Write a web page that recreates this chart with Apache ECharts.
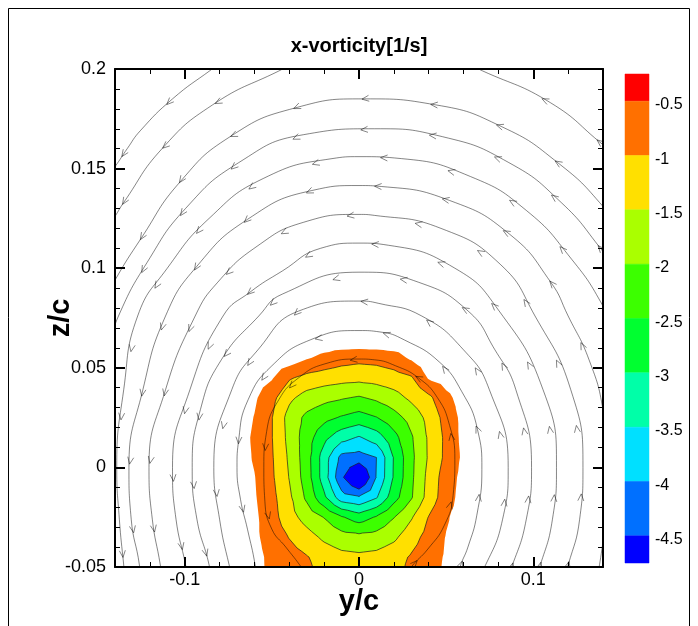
<!DOCTYPE html>
<html>
<head>
<meta charset="utf-8">
<script src="https://cdn.jsdelivr.net/npm/echarts@6/dist/echarts.min.js"></script>
<style>
  html, body { margin: 0; padding: 0; background: #ffffff; }
  #chart { width: 698px; height: 626px; }
</style>
</head>
<body>
<div id="chart"></div>
<script>
// ---- measurement grid (y/c columns, z/c rows) and x-vorticity [1/s] ----
const gridY = [-0.07, -0.06, -0.05, -0.04, -0.03, -0.02, -0.01, 0, 0.01, 0.02, 0.03, 0.04, 0.05, 0.06, 0.07];
const gridZ = [-0.055, -0.045, -0.035, -0.025, -0.015, -0.005, 0.005, 0.015, 0.025, 0.035, 0.045, 0.055, 0.065];
const vorticity = [
  [-0.2, -0.35, -0.6, -0.75, -0.9, -1.05, -1.2, -1.25, -1.2, -1.05, -0.9, -0.65, -0.42, -0.3, -0.15],
  [-0.2, -0.35, -0.62, -0.8, -0.97, -1.2, -1.35, -1.4, -1.35, -1.2, -0.95, -0.7, -0.45, -0.3, -0.15],
  [-0.2, -0.4, -0.72, -1.02, -1.3, -1.6, -1.8, -1.85, -1.8, -1.6, -1.2, -0.82, -0.48, -0.3, -0.15],
  [-0.2, -0.4, -0.8, -1.3, -1.7, -2.02, -2.45, -2.75, -2.45, -2.02, -1.55, -0.98, -0.55, -0.3, -0.15],
  [-0.25, -0.45, -0.85, -1.4, -2.1, -2.9, -3.8, -3.95, -3.55, -2.7, -2.05, -1.3, -0.72, -0.3, -0.15],
  [-0.25, -0.48, -0.92, -1.52, -2.25, -3.25, -4.4, -5.3, -3.98, -2.95, -2.1, -1.35, -0.75, -0.35, -0.15],
  [-0.25, -0.55, -0.95, -1.58, -2.28, -3.25, -4.15, -4.2, -4.0, -2.97, -2.12, -1.44, -0.88, -0.4, -0.15],
  [-0.25, -0.58, -0.98, -1.65, -2.26, -2.86, -3.31, -3.55, -3.25, -2.67, -2.06, -1.43, -0.89, -0.35, -0.15],
  [-0.2, -0.52, -0.98, -1.69, -2.12, -2.35, -2.55, -2.7, -2.52, -2.19, -1.82, -1.35, -0.81, -0.35, -0.15],
  [-0.15, -0.42, -0.85, -1.39, -1.7, -1.85, -1.95, -2.05, -1.9, -1.7, -1.39, -1.11, -0.62, -0.3, -0.15],
  [-0.1, -0.3, -0.45, -0.94, -1.15, -1.25, -1.32, -1.35, -1.3, -1.2, -1.05, -0.45, -0.3, -0.2, -0.1],
  [-0.05, -0.1, -0.2, -0.2, -0.45, -0.62, -0.78, -0.85, -0.82, -0.7, -0.42, -0.2, -0.2, -0.1, -0.05],
  [-0.02, -0.03, -0.05, -0.08, -0.12, -0.15, -0.1, -0.05, -0.05, -0.1, -0.15, -0.12, -0.08, -0.05, -0.02]
];

// ---- contour levels and colour bands (top of legend to bottom) ----
const levels = [-0.5, -1, -1.5, -2, -2.5, -3, -3.5, -4, -4.5];
const levelLabels = ['-0.5', '-1', '-1.5', '-2', '-2.5', '-3', '-3.5', '-4', '-4.5'];
const bandColors = ['#ff0000', '#ff7000', '#ffe000', '#aaff00', '#3cff00', '#00ff30', '#00ffa8', '#00e0ff', '#0070ff', '#0000ff'];
const legendEdges = [-0.25, -0.5, -1, -1.5, -2, -2.5, -3, -3.5, -4, -4.5, -4.75];

// ---- axis ticks ----
const yMajorTicks = [-0.1, 0, 0.1];
const zMajorTicks = [-0.05, 0, 0.05, 0.1, 0.15, 0.2];

// ---- streamlines, listed in flow direction, as [y/c, z/c] ----
const lineA = [[-0.065, 0.212], [-0.085, 0.1995], [-0.107, 0.185], [-0.1255, 0.169], [-0.133, 0.160], [-0.140, 0.151], [-0.148, 0.142]];
const lineB = [[0.150, 0.155], [0.140, 0.162], [0.110, 0.183], [0.071, 0.199], [0.058, 0.2035], [0.012, 0.207], [-0.034, 0.2035], [-0.046, 0.199], [-0.084, 0.182], [-0.113, 0.160], [-0.135, 0.133], [-0.140, 0.126], [-0.146, 0.118]];
const ringC = [[0.150, 0.117], [0.140, 0.131], [0.114, 0.153], [0.082, 0.171], [0.044, 0.182], [0.003, 0.185], [-0.0365, 0.1805], [-0.074, 0.166], [-0.103, 0.143], [-0.125, 0.115], [-0.140, 0.094], [-0.146, 0.083]];
const ringD = [[0.147, 0.099], [0.139, 0.1095], [0.116, 0.133], [0.086, 0.153], [0.048, 0.166], [0.009, 0.170], [-0.032, 0.167], [-0.069, 0.153], [-0.0995, 0.130], [-0.1215, 0.103], [-0.138, 0.076], [-0.144, 0.059]];
const ringE = [[0.145, 0.069], [0.140, 0.081], [0.122, 0.1045], [0.096, 0.129], [0.064, 0.146], [0.0245, 0.155], [0, 0.156], [-0.0155, 0.155], [-0.055, 0.145], [-0.086, 0.125], [-0.110, 0.100], [-0.127, 0.076], [-0.135, 0.039], [-0.139, 0.000], [-0.1375, -0.026], [-0.135, -0.049], [-0.1335, -0.0615]];
const ringF = [[0.137, -0.054], [0.1415, -0.026], [0.143, 0.000], [0.140, 0.029], [0.132, 0.054], [0.120, 0.076], [0.110, 0.093], [0.0865, 0.117], [0.052, 0.134], [0.013, 0.141], [0, 0.1415], [-0.027, 0.139], [-0.064, 0.1245], [-0.093, 0.101], [-0.111, 0.076], [-0.124, 0.039], [-0.132, 0.000], [-0.1307, -0.026], [-0.126, -0.049], [-0.125, -0.0615]];
const ringG = [[0.115, -0.0615], [0.120, -0.049], [0.1266, -0.026], [0.1285, 0.000], [0.1215, 0.039], [0.101, 0.076], [0.081, 0.102], [0.047, 0.120], [0.009, 0.1265], [0, 0.127], [-0.032, 0.123], [-0.0585, 0.111], [-0.081, 0.093], [-0.094, 0.076], [-0.111, 0.039], [-0.1205, 0.000], [-0.1186, -0.026], [-0.114, -0.049], [-0.112, -0.0615]];
const ringH = [[0.098, -0.0615], [0.104, -0.049], [0.111, -0.026], [0.1133, 0.000], [0.1056, 0.039], [0.080, 0.079], [0.055, 0.100], [0.017, 0.1115], [0, 0.1126], [-0.022, 0.110], [-0.044, 0.0986], [-0.0625, 0.088], [-0.078, 0.076], [-0.097, 0.039], [-0.107, 0.000], [-0.105, -0.026], [-0.0995, -0.049], [-0.097, -0.0615]];
const ringI = [[0.081, -0.0615], [0.088, -0.049], [0.096, -0.026], [0.099, 0.000], [0.090, 0.039], [0.078, 0.059], [0.0626, 0.0785], [0.034, 0.093], [0, 0.098], [-0.044, 0.087], [-0.0575, 0.076], [-0.079, 0.054], [-0.091, 0.029], [-0.0957, 0.000], [-0.093, -0.026], [-0.086, -0.049], [-0.084, -0.0615]];
const ringJ = [[0.063, -0.0615], [0.0726, -0.049], [0.0824, -0.026], [0.0856, 0.000], [0.0748, 0.039], [0.060, 0.059], [0.036, 0.076], [0.011, 0.0824], [0, 0.0835], [-0.0346, 0.0785], [-0.058, 0.059], [-0.073, 0.039], [-0.0833, 0.000], [-0.080, -0.026], [-0.0745, -0.049], [-0.0705, -0.0615]];
const ringK = [[0.055, -0.0615], [0.058, -0.050], [0.0625, -0.040], [0.0676, -0.024], [0.0705, -0.001], [0.068, 0.019], [0.059, 0.038], [0.046, 0.053], [0.026, 0.064], [0.012, 0.068], [0, 0.0687], [-0.028, 0.064], [-0.050, 0.051], [-0.0636, 0.034], [-0.069, 0.014], [-0.070, 0.000], [-0.068, -0.016], [-0.064, -0.031], [-0.0596, -0.049], [-0.058, -0.0615]];
const ringL = [[0.0235, -0.059], [0.030, -0.050], [0.0395, -0.041], [0.049, -0.029], [0.054, -0.014], [0.055, 0.004], [0.052, 0.021], [0.045, 0.035], [0.034, 0.045], [0.021, 0.051], [0.009, 0.054], [0, 0.0544], [-0.0195, 0.052], [-0.0346, 0.045], [-0.046, 0.034], [-0.053, 0.018], [-0.0546, 0.000], [-0.054, -0.017], [-0.050, -0.031], [-0.042, -0.040], [-0.034, -0.049], [-0.027, -0.058]];
const streamlines = [lineA, lineB, ringC, ringD, ringE, ringF, ringG, ringH, ringI, ringJ, ringK, ringL];

const FONT = 'Liberation Sans, Arial, Helvetica, sans-serif';
const STREAM_COLOR = 'rgba(0,0,0,0.48)';

// part of a polygon (vertices carry [x, y, value]) whose value lies below t
function clipBelow(poly, t) {
  const out = [];
  for (let i = 0; i < poly.length; i++) {
    const a = poly[i], b = poly[(i + 1) % poly.length];
    const ain = a[2] < t, bin = b[2] < t;
    if (ain) out.push(a);
    if (ain !== bin) {
      const f = (t - a[2]) / (b[2] - a[2]);
      out.push([a[0] + f * (b[0] - a[0]), a[1] + f * (b[1] - a[1]), t]);
    }
  }
  return out;
}

function isoSegment(tri, t) {
  const pts = [];
  for (let i = 0; i < 3; i++) {
    const a = tri[i], b = tri[(i + 1) % 3];
    if ((a[2] < t) !== (b[2] < t)) {
      const f = (t - a[2]) / (b[2] - a[2]);
      pts.push([a[0] + f * (b[0] - a[0]), a[1] + f * (b[1] - a[1])]);
    }
  }
  return pts.length === 2 ? pts : null;
}

// filled contour bands + contour lines, each grid cell split into four triangles
function renderContours(params, api) {
  const nodes = gridZ.map((z, i) => gridY.map((y, j) => {
    const c = api.coord([y, z]);
    return [c[0], c[1], vorticity[i][j]];
  }));
  const tris = [];
  for (let i = 0; i < gridZ.length - 1; i++) {
    for (let j = 0; j < gridY.length - 1; j++) {
      const p00 = nodes[i][j], p01 = nodes[i][j + 1], p11 = nodes[i + 1][j + 1], p10 = nodes[i + 1][j];
      const c = [(p00[0] + p11[0]) / 2, (p00[1] + p11[1]) / 2, (p00[2] + p01[2] + p11[2] + p10[2]) / 4];
      tris.push([p00, p01, c], [p01, p11, c], [p11, p10, c], [p10, p00, c]);
    }
  }
  const f = v => v.toFixed(2);
  const children = [];
  levels.forEach((t, k) => {
    let d = '';
    tris.forEach(tri => {
      const poly = clipBelow(tri, t);
      if (poly.length >= 3) {
        d += 'M' + poly.map(p => f(p[0]) + ' ' + f(p[1])).join('L') + 'Z';
      }
    });
    if (d) children.push({ type: 'path', shape: { pathData: d }, style: { fill: bandColors[k + 1], stroke: null } });
  });
  let lines = '';
  levels.forEach((t, k) => {
    if (k === 0) return;
    tris.forEach(tri => {
      const s = isoSegment(tri, t);
      if (s) lines += 'M' + f(s[0][0]) + ' ' + f(s[0][1]) + 'L' + f(s[1][0]) + ' ' + f(s[1][1]);
    });
  });
  children.push({ type: 'path', shape: { pathData: lines }, style: { fill: 'none', stroke: '#202020', lineWidth: 0.7 } });
  return { type: 'group', children };
}

// open arrowheads placed along each streamline
const arrowSpacing = 69;
const arrowPhase = 30;
function renderArrows(params, api) {
  const pts = streamlines[params.dataIndex].map(p => api.coord(p));
  const cs = params.coordSys;
  const children = [];
  let acc = 0, next = arrowPhase;
  for (let i = 0; i < pts.length - 1; i++) {
    const a = pts[i], b = pts[i + 1];
    const dx = b[0] - a[0], dy = b[1] - a[1];
    const len = Math.hypot(dx, dy);
    if (len === 0) continue;
    const ux = dx / len, uy = dy / len;
    while (next <= acc + len) {
      const s = (next - acc) / len;
      const x = a[0] + s * dx, y = a[1] + s * dy;
      if (x > cs.x + 4 && x < cs.x + cs.width - 4 && y > cs.y + 4 && y < cs.y + cs.height - 4) {
        children.push({
          type: 'polyline',
          shape: { points: [[x - ux * 7 + uy * 3, y - uy * 7 - ux * 3], [x, y], [x - ux * 7 - uy * 3, y - uy * 7 + ux * 3]] },
          style: { stroke: STREAM_COLOR, fill: 'none', lineWidth: 1 }
        });
      }
      next += arrowSpacing;
    }
    acc += len;
  }
  return { type: 'group', children };
}

function renderLegend(params, api) {
  const hi = legendEdges[params.dataIndex], lo = legendEdges[params.dataIndex + 1];
  const p0 = api.coord([0, hi]), p1 = api.coord([1, lo]);
  return {
    type: 'rect',
    shape: { x: p0[0], y: p0[1], width: p1[0] - p0[0], height: p1[1] - p0[1] },
    style: { fill: bandColors[params.dataIndex], stroke: bandColors[params.dataIndex], lineWidth: 0.5 }
  };
}

const frameLine = { show: true, onZero: false, lineStyle: { color: '#000', width: 2 } };
function xAxisDef(position, major, withLabels) {
  return {
    type: 'value', gridIndex: 0, position, min: -0.14, max: 0.14, z: 5,
    interval: major ? undefined : 0.02,
    axisLine: major ? frameLine : { show: false, onZero: false },
    axisTick: major
      ? { show: true, inside: true, length: 10, customValues: yMajorTicks, lineStyle: { color: '#000', width: 2 } }
      : { show: true, inside: true, length: 5, lineStyle: { color: '#000', width: 1 } },
    axisLabel: withLabels
      ? { show: true, customValues: yMajorTicks, color: '#000', fontSize: 18, fontFamily: FONT, margin: 4 }
      : { show: false },
    splitLine: { show: false },
    name: withLabels ? 'y/c' : '',
    nameLocation: 'middle', nameGap: 20, nameMoveOverlap: false,
    nameTextStyle: { color: '#000', fontSize: 29, fontWeight: 'bold', fontFamily: FONT }
  };
}
function yAxisDef(position, major, withLabels) {
  return {
    type: 'value', gridIndex: 0, position, min: -0.05, max: 0.2, z: 5,
    interval: major ? 0.05 : 0.01,
    axisLine: major ? frameLine : { show: false, onZero: false },
    axisTick: major
      ? { show: true, inside: true, length: 10, lineStyle: { color: '#000', width: 2 } }
      : { show: true, inside: true, length: 5, lineStyle: { color: '#000', width: 1 } },
    axisLabel: withLabels
      ? { show: true, customValues: zMajorTicks, color: '#000', fontSize: 18, fontFamily: FONT, margin: 9 }
      : { show: false },
    splitLine: { show: false },
    name: withLabels ? 'z/c' : '',
    nameLocation: 'middle', nameGap: 40, nameMoveOverlap: false,
    nameTextStyle: { color: '#000', fontSize: 29, fontWeight: 'bold', fontFamily: FONT }
  };
}

const chart = echarts.init(document.getElementById('chart'), null, { renderer: 'canvas' });
chart.setOption({
  animation: false,
  backgroundColor: '#ffffff',
  title: {
    text: 'x-vorticity[1/s]', left: 354, top: 31, textAlign: 'center',
    textStyle: { color: '#000', fontSize: 20, fontWeight: 'bold', fontFamily: FONT }
  },
  graphic: [{
    type: 'rect', z: 100, silent: true,
    shape: { x: 8.5, y: 8.5, width: 681, height: 640 },
    style: { fill: 'none', stroke: '#000', lineWidth: 1 }
  }],
  grid: [
    { left: 115, top: 69, width: 488, height: 498 },
    { left: 625, top: 74, width: 24, height: 489 }
  ],
  xAxis: [
    xAxisDef('bottom', true, true),
    xAxisDef('bottom', false, false),
    xAxisDef('top', true, false),
    xAxisDef('top', false, false),
    { type: 'value', gridIndex: 1, min: 0, max: 1, show: false }
  ],
  yAxis: [
    yAxisDef('left', true, true),
    yAxisDef('left', false, false),
    yAxisDef('right', true, false),
    yAxisDef('right', false, false),
    { type: 'value', gridIndex: 1, min: -4.75, max: -0.25, show: false },
    {
      // legend labels, set slightly below their band boundaries
      type: 'value', gridIndex: 1, position: 'right', min: -4.715, max: -0.215,
      axisLine: { show: false }, axisTick: { show: false }, splitLine: { show: false },
      axisLabel: {
        show: true, customValues: levels, margin: 6, color: '#000', fontSize: 16, fontFamily: FONT,
        formatter: v => levelLabels[levels.indexOf(+(+v).toFixed(2))] || ''
      }
    }
  ],
  series: [
    {
      type: 'custom', xAxisIndex: 0, yAxisIndex: 0, z: 1, clip: true, silent: true,
      renderItem: renderContours, data: [[0, 0]]
    },
    ...streamlines.map(line => ({
      type: 'line', xAxisIndex: 0, yAxisIndex: 0, z: 2, clip: true, silent: true,
      data: line, smooth: 0.5, showSymbol: false, symbol: 'none',
      lineStyle: { color: STREAM_COLOR, width: 1 }
    })),
    {
      type: 'custom', xAxisIndex: 0, yAxisIndex: 0, z: 3, clip: true, silent: true,
      renderItem: renderArrows, data: streamlines.map(s => s[0])
    },
    {
      type: 'custom', xAxisIndex: 4, yAxisIndex: 4, silent: true,
      renderItem: renderLegend, data: bandColors.map((c, i) => [0.5, legendEdges[i]])
    }
  ]
});
</script>
</body>
</html>
